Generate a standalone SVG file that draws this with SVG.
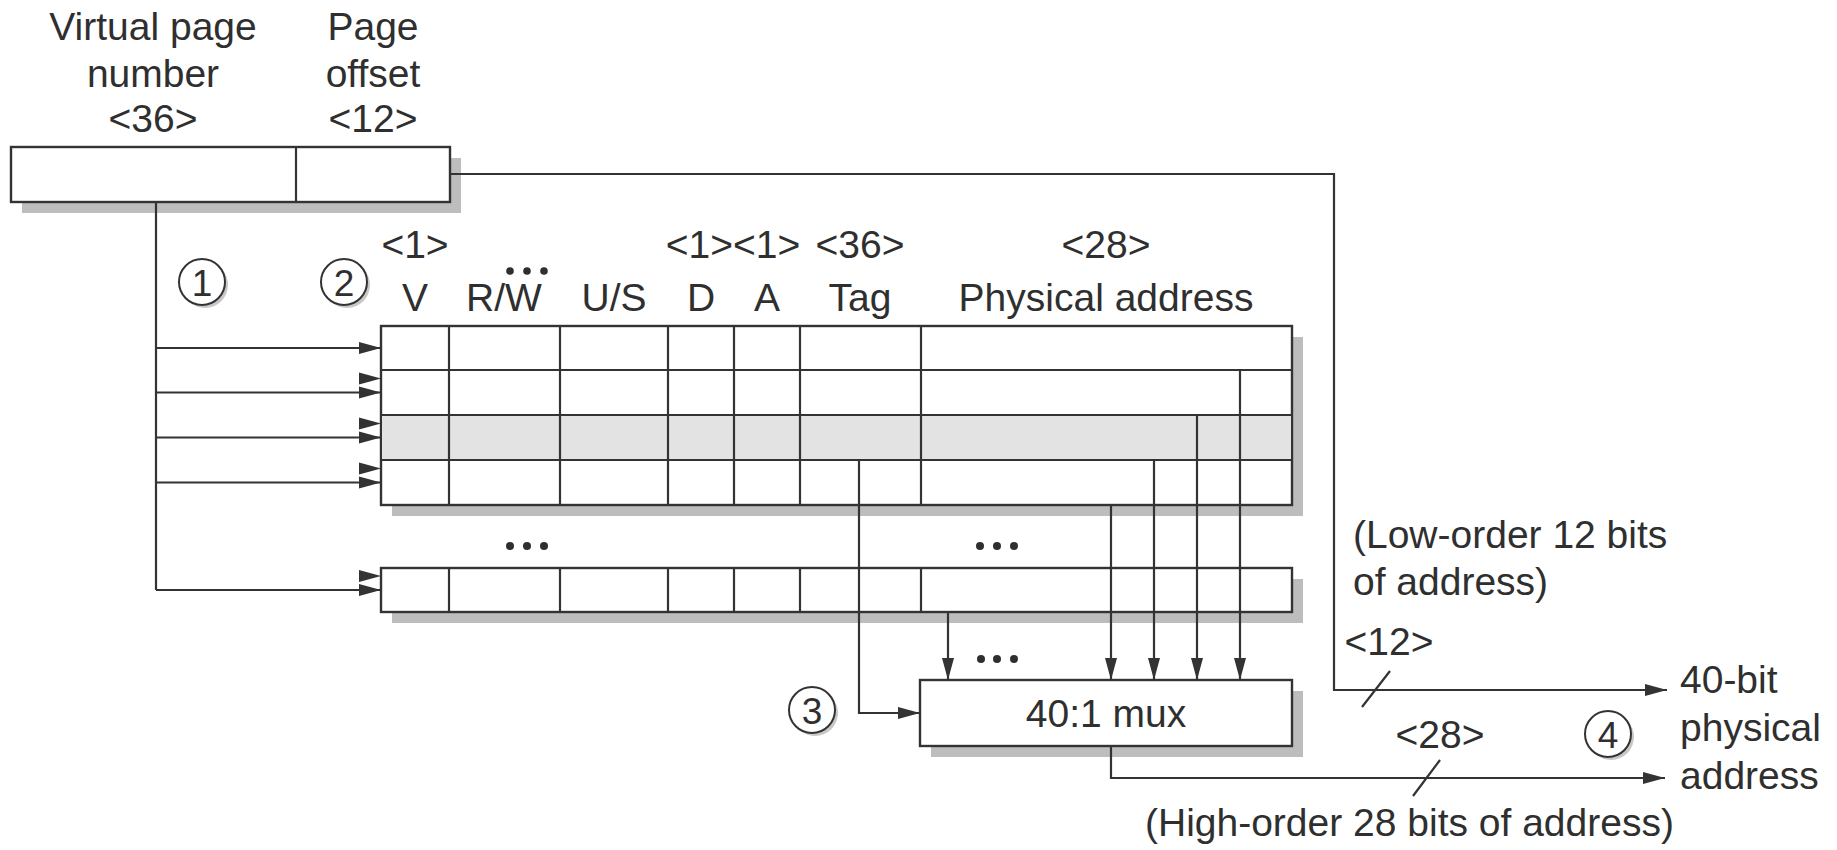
<svg xmlns="http://www.w3.org/2000/svg" xmlns:xlink="http://www.w3.org/1999/xlink" width="1837" height="850" viewBox="0 0 1837 850">
<style>
.t{font-family:"Liberation Sans",Arial,Helvetica,sans-serif;font-size:39px;fill:#2f2f2f}
.m{text-anchor:middle}
.ln{stroke:#333;stroke-width:2.2;fill:none}
.box{fill:#fff;stroke:#333;stroke-width:2.4}
.sh{fill:#bdbdbd}
.gr{fill:#e3e3e3}
.dot{fill:#2f2f2f}
.cs{fill:#c8c8c8}
.cc{fill:#fff;stroke:#333;stroke-width:2}
.cn{font-family:"Liberation Sans",Arial,Helvetica,sans-serif;font-size:37px;fill:#2f2f2f;text-anchor:middle}
</style>
<defs>
<marker id="ah" markerUnits="userSpaceOnUse" markerWidth="24" markerHeight="14" refX="22" refY="7" orient="auto">
<path d="M0,1 L22,7 L0,13 z" fill="#333"/>
</marker>
<path id="hd" d="M-22,-6 L0,0 L-22,6 z" fill="#333"/>
</defs>
<rect width="1837" height="850" fill="#fff"/>

<g id="virtual-address">
<rect class="sh" x="22" y="158" width="439" height="55"/>
<rect class="box" x="11" y="147" width="439" height="55"/>
<line class="ln" x1="296" y1="147" x2="296" y2="202"/>
<text class="t m" x="153" y="40">Virtual page</text>
<text class="t m" x="153" y="87">number</text>
<text class="t m" x="153" y="132">&lt;36&gt;</text>
<text class="t m" x="373" y="40">Page</text>
<text class="t m" x="373" y="87">offset</text>
<text class="t m" x="373" y="132">&lt;12&gt;</text>
</g>

<g id="tlb-table">
<rect class="sh" x="392" y="337" width="911" height="179"/>
<rect class="box" x="381" y="326" width="911" height="179"/>
<rect class="gr" x="382" y="415" width="909" height="45"/>
<line class="ln" x1="381" y1="370" x2="1292" y2="370"/>
<line class="ln" x1="381" y1="415" x2="1292" y2="415"/>
<line class="ln" x1="381" y1="460" x2="1292" y2="460"/>
<line class="ln" x1="449" y1="326" x2="449" y2="505"/>
<line class="ln" x1="560" y1="326" x2="560" y2="505"/>
<line class="ln" x1="668" y1="326" x2="668" y2="505"/>
<line class="ln" x1="734" y1="326" x2="734" y2="505"/>
<line class="ln" x1="800" y1="326" x2="800" y2="505"/>
<line class="ln" x1="921" y1="326" x2="921" y2="505"/>
<text class="t m" x="415" y="258">&lt;1&gt;</text>
<text class="t m" x="733" y="258">&lt;1&gt;&lt;1&gt;</text>
<text class="t m" x="860" y="258">&lt;36&gt;</text>
<text class="t m" x="1106" y="258">&lt;28&gt;</text>
<text class="t m" x="415" y="311">V</text>
<text class="t m" x="504" y="311">R/W</text>
<text class="t m" x="614" y="311">U/S</text>
<text class="t m" x="701" y="311">D</text>
<text class="t m" x="767" y="311">A</text>
<text class="t m" x="860" y="311">Tag</text>
<text class="t m" x="1106" y="311">Physical address</text>
<circle class="dot" cx="510" cy="271" r="3.8"/>
<circle class="dot" cx="527" cy="271" r="3.8"/>
<circle class="dot" cx="544" cy="271" r="3.8"/>
</g>

<g id="ellipsis-rows">
<circle class="dot" cx="510" cy="546" r="4"/>
<circle class="dot" cx="527" cy="546" r="4"/>
<circle class="dot" cx="544" cy="546" r="4"/>
<circle class="dot" cx="980" cy="546" r="4"/>
<circle class="dot" cx="997" cy="546" r="4"/>
<circle class="dot" cx="1014" cy="546" r="4"/>
</g>

<g id="tlb-last-entry">
<rect class="sh" x="392" y="579" width="911" height="44"/>
<rect class="box" x="381" y="568" width="911" height="44"/>
<line class="ln" x1="449" y1="568" x2="449" y2="612"/>
<line class="ln" x1="560" y1="568" x2="560" y2="612"/>
<line class="ln" x1="668" y1="568" x2="668" y2="612"/>
<line class="ln" x1="734" y1="568" x2="734" y2="612"/>
<line class="ln" x1="800" y1="568" x2="800" y2="612"/>
<line class="ln" x1="921" y1="568" x2="921" y2="612"/>
</g>

<g id="mux">
<rect class="sh" x="931" y="691" width="372" height="66"/>
<rect class="box" x="920" y="680" width="372" height="66"/>
<text class="t m" x="1106" y="727">40:1 mux</text>
</g>

<g id="mux-ellipsis">
<circle class="dot" cx="981" cy="659" r="4"/>
<circle class="dot" cx="997" cy="659" r="4"/>
<circle class="dot" cx="1014" cy="659" r="4"/>
</g>

<g id="step-1">
<circle class="cs" cx="205" cy="285" r="23"/>
<circle class="cc" cx="202" cy="282" r="23"/>
<text class="cn" x="202" y="295.5">1</text>
</g>
<g id="step-2">
<circle class="cs" cx="347" cy="285" r="23"/>
<circle class="cc" cx="344" cy="282" r="23"/>
<text class="cn" x="344" y="295.5">2</text>
</g>
<g id="step-3">
<circle class="cs" cx="815" cy="713" r="23"/>
<circle class="cc" cx="812" cy="710" r="23"/>
<text class="cn" x="812" y="723.5">3</text>
</g>
<g id="step-4">
<circle class="cs" cx="1611" cy="737" r="23"/>
<circle class="cc" cx="1608" cy="734" r="23"/>
<text class="cn" x="1608" y="747.5">4</text>
</g>

<g id="labels">
<text class="t" x="1353" y="548">(Low-order 12 bits</text>
<text class="t" x="1353" y="595">of address)</text>
<text class="t m" x="1389" y="655">&lt;12&gt;</text>
<text class="t m" x="1440" y="748">&lt;28&gt;</text>
<text class="t" x="1145" y="836">(High-order 28 bits of address)</text>
</g>

<g id="physical-address">
<text class="t" x="1680" y="693">40-bit</text>
<text class="t" x="1680" y="741">physical</text>
<text class="t" x="1680" y="789">address</text>
</g>

<g id="connectors">
<polyline class="ln" points="450,174 1334,174 1334,690 1667,690" marker-end="url(#ah)"/>
<line class="ln" x1="156" y1="202" x2="156" y2="590"/>
<line class="ln" x1="156" y1="348" x2="381" y2="348" marker-end="url(#ah)"/>
<line class="ln" x1="156" y1="392.5" x2="381" y2="392.5" marker-end="url(#ah)"/>
<line class="ln" x1="156" y1="437.5" x2="381" y2="437.5" marker-end="url(#ah)"/>
<line class="ln" x1="156" y1="482.5" x2="381" y2="482.5" marker-end="url(#ah)"/>
<line class="ln" x1="156" y1="590" x2="381" y2="590" marker-end="url(#ah)"/>
<use xlink:href="#hd" href="#hd" x="381" y="378.5"/>
<use xlink:href="#hd" href="#hd" x="381" y="423.5"/>
<use xlink:href="#hd" href="#hd" x="381" y="468.5"/>
<use xlink:href="#hd" href="#hd" x="381" y="576"/>
<polyline class="ln" points="859,460 859,713 920,713" marker-end="url(#ah)"/>
<line class="ln" x1="1111" y1="505" x2="1111" y2="680" marker-end="url(#ah)"/>
<line class="ln" x1="1154" y1="460" x2="1154" y2="680" marker-end="url(#ah)"/>
<line class="ln" x1="1197" y1="415" x2="1197" y2="680" marker-end="url(#ah)"/>
<line class="ln" x1="1240" y1="370" x2="1240" y2="680" marker-end="url(#ah)"/>
<line class="ln" x1="948" y1="612" x2="948" y2="680" marker-end="url(#ah)"/>
<polyline class="ln" points="1111,746 1111,778 1665,778" marker-end="url(#ah)"/>
<line class="ln" x1="1362" y1="707" x2="1390" y2="671"/>
<line class="ln" x1="1413" y1="796" x2="1440" y2="760"/>
</g>
</svg>
